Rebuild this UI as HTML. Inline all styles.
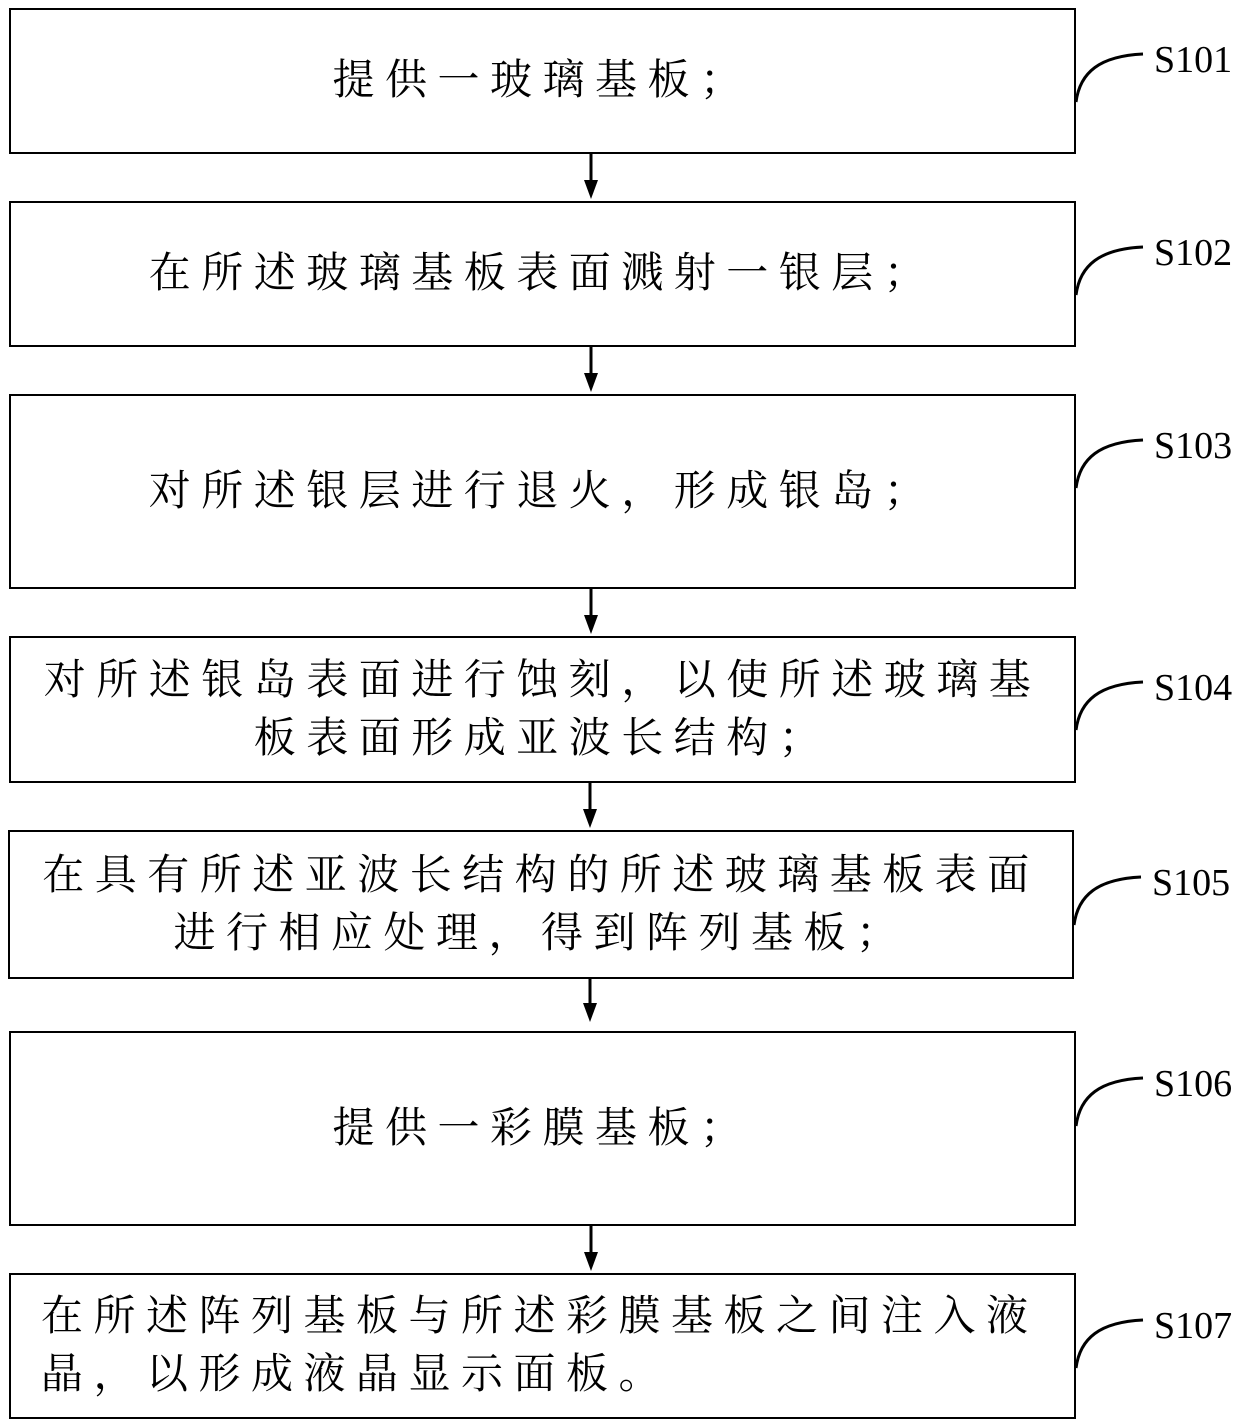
<!DOCTYPE html>
<html><head><meta charset="utf-8"><style>
body{margin:0;background:#fff;width:1240px;height:1425px;position:relative;overflow:hidden}
.b{position:absolute;border:2px solid #000;box-sizing:border-box;display:flex;flex-direction:column;justify-content:center;font-family:"Liberation Serif","Noto Serif CJK SC","Noto Serif CJK JP",serif;font-size:42px;letter-spacing:10.5px;line-height:58px;text-align:center;color:#000}
.l{position:absolute;font-family:"Liberation Serif",serif;font-size:38px;color:#000}
</style></head><body>
<div class="b" style="left:9px;top:8px;width:1067px;height:146px">提供一玻璃基板；</div>
<div class="b" style="left:9px;top:201px;width:1067px;height:146px">在所述玻璃基板表面溅射一银层；</div>
<div class="b" style="left:9px;top:394px;width:1067px;height:195px">对所述银层进行退火，形成银岛；</div>
<div class="b" style="left:9px;top:636px;width:1067px;height:147px"><div>对所述银岛表面进行蚀刻，以使所述玻璃基</div><div>板表面形成亚波长结构；</div></div>
<div class="b" style="left:8px;top:830px;width:1066px;height:149px"><div>在具有所述亚波长结构的所述玻璃基板表面</div><div>进行相应处理，得到阵列基板；</div></div>
<div class="b" style="left:9px;top:1031px;width:1067px;height:195px">提供一彩膜基板；</div>
<div class="b" style="left:9px;top:1273px;width:1067px;height:146px;text-align:left;padding-left:30px"><div>在所述阵列基板与所述彩膜基板之间注入液</div><div>晶，以形成液晶显示面板。</div></div>
<svg width="1240" height="1425" style="position:absolute;left:0;top:0" fill="none" stroke="#000" stroke-width="3">
<g id="a">
<path d="M591 154V188"/><path d="M584 180L591 199L598 180Z" fill="#000" stroke="none"/>
</g>
<use href="#a" y="193"/>
<use href="#a" y="435"/>
<use href="#a" y="629" x="-1"/>
<use href="#a" x="-1" y="823"/>
<use href="#a" y="1072"/>
<g id="c"><path d="M1076 102C1080 72 1100 56 1143 54"/></g>
<use href="#c" y="193"/>
<use href="#c" y="386"/>
<use href="#c" y="628"/>
<use href="#c" y="823" x="-2"/>
<use href="#c" y="1024"/>
<use href="#c" y="1266"/>
</svg>
<div class="l" style="left:1154px;top:38px">S101</div>
<div class="l" style="left:1154px;top:231px">S102</div>
<div class="l" style="left:1154px;top:424px">S103</div>
<div class="l" style="left:1154px;top:666px">S104</div>
<div class="l" style="left:1152px;top:861px">S105</div>
<div class="l" style="left:1154px;top:1062px">S106</div>
<div class="l" style="left:1154px;top:1304px">S107</div>
</body></html>
